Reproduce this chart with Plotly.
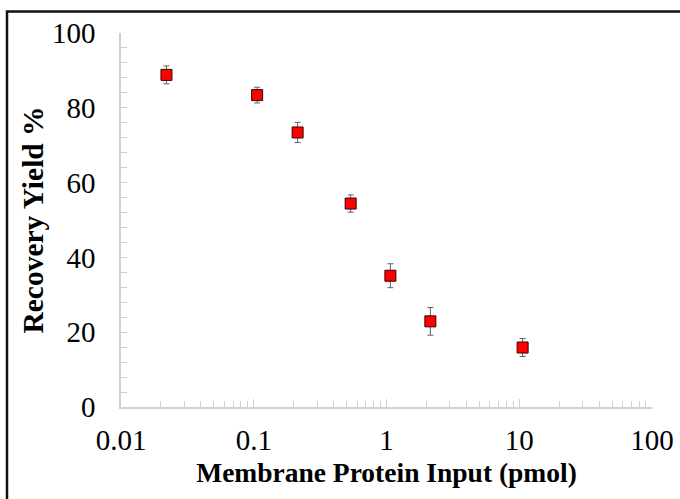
import plotly.graph_objects as go

protein_input = [0.022, 0.106, 0.214, 0.537, 1.07, 2.14, 10.6]
recovery_yield = [88.8, 83.4, 73.4, 54.4, 35.1, 22.9, 15.9]
yield_error = [2.4, 2.1, 2.7, 2.3, 3.2, 3.7, 2.4]

x_tick_vals = [0.01, 0.1, 1, 10, 100]
x_tick_text = ["0.01", "0.1", "1", "10", "100"]
y_tick_vals = [0, 20, 40, 60, 80, 100]

x_minor = [m * 10 ** e for e in range(-2, 2) for m in range(2, 10)]

FONT = "Liberation Serif, Times New Roman, serif"
AXIS_COLOR = "#d0d0d0"

fig = go.Figure()
fig.add_trace(go.Scatter(
    x=protein_input, y=recovery_yield, mode="markers",
    marker=dict(symbol="square", size=11, color="#ff0000",
                line=dict(color="#3a0000", width=1)),
    error_y=dict(type="data", array=yield_error, visible=True,
                 color="#606060", thickness=1, width=3),
    showlegend=False,
))

fig.update_xaxes(
    type="log", range=[-2, 2], automargin=False,
    tickmode="array", tickvals=x_tick_vals, ticktext=x_tick_text,
    ticks="inside", ticklen=8, tickcolor=AXIS_COLOR, tickwidth=1,
    showline=True, linecolor=AXIS_COLOR, linewidth=1.5,
    showgrid=False, zeroline=False,
    tickfont=dict(family=FONT, size=29, color="black"),
    ticklabelstandoff=6,
    minor=dict(tickmode="array", tickvals=x_minor, ticks="inside",
               ticklen=6, tickcolor=AXIS_COLOR, showgrid=False),
    title=dict(text="<b>Membrane Protein Input (pmol)</b>",
               font=dict(family=FONT, size=27.5, color="black"), standoff=8),
)
fig.update_yaxes(
    range=[0, 100], tickmode="array", tickvals=y_tick_vals, automargin=False,
    ticks="inside", ticklen=6, tickcolor=AXIS_COLOR, tickwidth=1,
    showline=True, linecolor=AXIS_COLOR, linewidth=1.5,
    showgrid=False, zeroline=False,
    tickfont=dict(family=FONT, size=29, color="black"),
    ticklabelstandoff=18,
    minor=dict(dtick=4, ticks="inside", ticklen=6,
               tickcolor=AXIS_COLOR, showgrid=False),
    title=dict(text="<b>Recovery Yield %</b>",
               font=dict(family=FONT, size=29.5, color="black"), standoff=0),
)

fig.add_shape(type="rect", xref="paper", yref="paper",
              x0=-0.2147, x1=1.06, y0=-0.26, y1=1.0575,
              line=dict(color="#111111", width=2.5), layer="above")

fig.update_layout(
    width=680, height=499,
    margin=dict(l=121, r=28, t=33, b=92),
    paper_bgcolor="white", plot_bgcolor="white",
)

fig.write_html("out.html", config={"displayModeBar": False},
               post_script="document.body.style.margin='0';")
